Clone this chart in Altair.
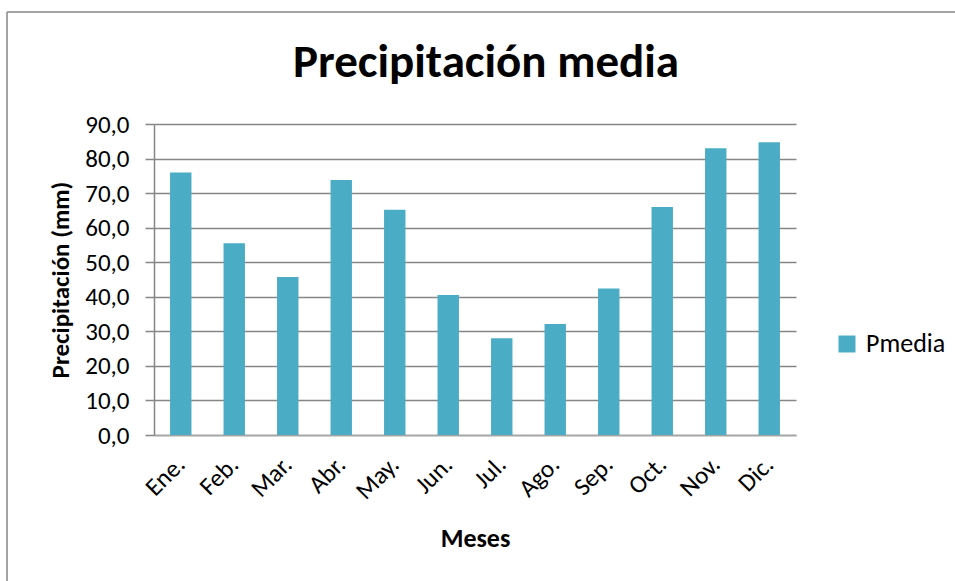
import altair as alt
import pandas as pd

# Monthly mean precipitation (mm)
meses = ["Ene.", "Feb.", "Mar.", "Abr.", "May.", "Jun.",
         "Jul.", "Ago.", "Sep.", "Oct.", "Nov.", "Dic."]
pmedia = [76.0, 55.5, 45.7, 73.8, 65.2, 40.5,
          28.0, 32.1, 42.4, 66.0, 83.0, 84.7]
serie = "Pmedia"
y_ticks = [0, 10, 20, 30, 40, 50, 60, 70, 80, 90]

FONT = "Calibri, Carlito, Lato"
BAR = "#4BACC6"
GRID = "#868686"

df = pd.DataFrame({"mes": meses, "valor": pmedia, "serie": [serie] * len(meses)})

bars = alt.Chart(df).mark_bar(color=BAR).encode(
    x=alt.X(
        "mes:N",
        sort=meses,
        scale=alt.Scale(paddingInner=0.6, paddingOuter=0.3),
        axis=alt.Axis(
            title="Meses",
            labelAngle=315,
            labelAlign="right",
            labelBaseline="middle",
            labelPadding=25,
            labelFontSize=25,
            labelColor="#000000",
            titleFontSize=26,
            titleFontWeight="bold",
            titleColor="#000000",
            titlePadding=22,
            ticks=False,
            domainColor="#A6A6A6",
            domainWidth=1.5,
            grid=False,
        ),
    ),
    y=alt.Y(
        "valor:Q",
        scale=alt.Scale(domain=[0, 90], nice=False),
        axis=alt.Axis(
            title="Precipitación (mm)",
            values=y_ticks,
            labelExpr="replace(format(datum.value, '.1f'), '.', ',')",
            labelFontSize=25,
            labelColor="#000000",
            labelPadding=16,
            titleFontSize=25,
            titleFontWeight="bold",
            titleColor="#000000",
            titlePadding=11,
            tickSize=9,
            tickColor=GRID,
            tickWidth=1.5,
            domainColor=GRID,
            domainWidth=1.5,
            gridColor=GRID,
            gridWidth=1.5,
        ),
    ),
    color=alt.Color(
        "serie:N",
        scale=alt.Scale(range=[BAR]),
        legend=alt.Legend(
            title=None,
            orient="none",
            legendX=680,
            legendY=207,
            symbolType="square",
            symbolSize=289,
            symbolStrokeWidth=0,
            labelFontSize=26,
            labelColor="#000000",
            labelOffset=6,
        ),
    ),
)

# outer chart frame (top and left edges)
frame_df = pd.DataFrame({"k": [0]})
frame_top = alt.Chart(frame_df).mark_rule(color=GRID, strokeWidth=1.5).encode(
    x=alt.value(-147), x2=alt.value(900), y=alt.value(-112)
)
frame_left = alt.Chart(frame_df).mark_rule(color=GRID, strokeWidth=1.5).encode(
    x=alt.value(-147), y=alt.value(-112), y2=alt.value(600)
)

chart = (
    alt.layer(frame_top, frame_left, bars)
    .properties(
        width=642,
        height=311,
        autosize=alt.AutoSizeParams(type="none"),
        padding={"left": 154, "top": 124, "right": 159, "bottom": 146},
        title=alt.TitleParams(
            "Precipitación media",
            fontSize=47,
            fontWeight="bold",
            color="#000000",
            anchor="middle",
            baseline="alphabetic",
            dx=11,
            dy=113,
            offset=0,
        ),
    )
    .configure(font=FONT, background="#FFFFFF")
    .configure_view(stroke=None)
)

chart.save("out.html", embed_options={"renderer": "svg", "actions": False})
